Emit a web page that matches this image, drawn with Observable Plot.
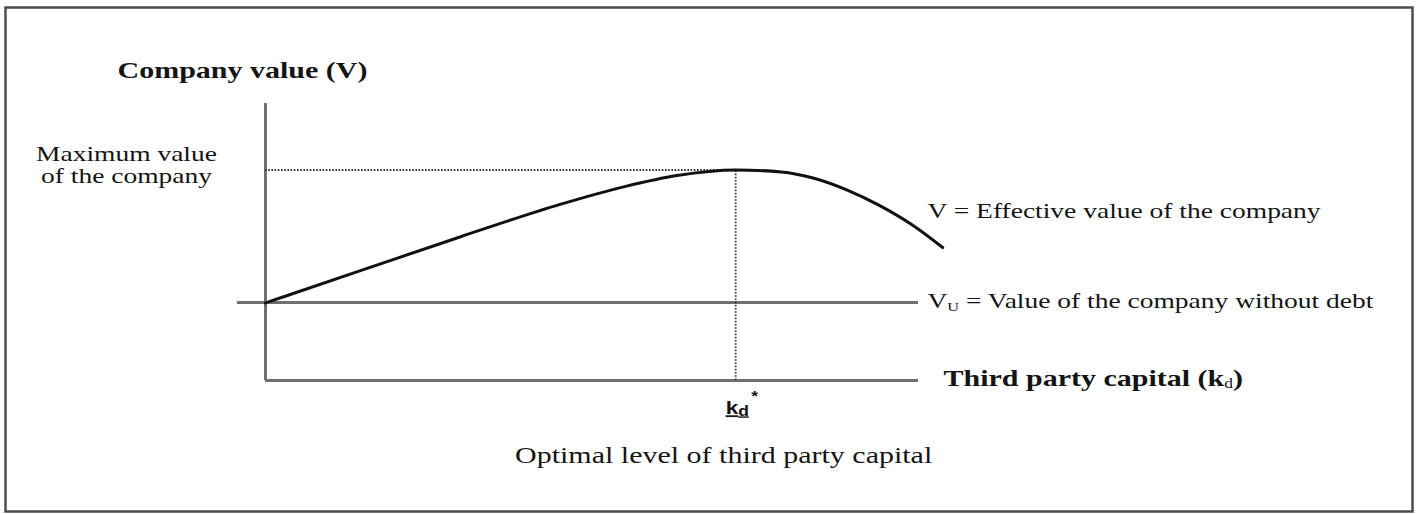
<!DOCTYPE html>
<html><head><meta charset="utf-8">
<script src="https://cdn.jsdelivr.net/npm/d3@7"></script>
<script src="https://cdn.jsdelivr.net/npm/@observablehq/plot@0.6"></script>
<style>
html,body{margin:0;padding:0;background:#fff;}
#chart svg{display:block;}
</style></head><body><div id="chart"></div>
<script>
// ---- data ----
const thirdPartyCapital = [0, 1.5, 3.0, 4.5, 5.5, 6.3, 7.2, 7.9, 8.4, 8.9, 9.4, 9.9, 10.37];
const effectiveValue    = [2.8, 4.0, 5.2, 6.35, 7.0, 7.4, 7.6, 7.53, 7.3, 6.88, 6.32, 5.62, 4.8];
const unleveredValue = 2.82;
const optimalCapital = 7.2;
const maximumValue = 7.6;
const xAxisEnd = 10;
const yAxisEnd = 10;
const vuLineStart = -0.43;

// ---- text labels ----
const yAxisTitle = "Company value (V)";
const xAxisTitle = "Third party capital (kd)";
const maxLabel = "Maximum value\nof the company";
const vLabel = "V = Effective value of the company";
const vuLabel = "VU = Value of the company without debt";
const kdLabel = "kd*";
const optimalLabel = "Optimal level of third party capital";

const curveData = thirdPartyCapital.map((x, i) => ({x, v: effectiveValue[i]}));
const serif = "'Liberation Serif', 'Times New Roman', serif";
const ink = "#141414";

const chart = Plot.plot({
  width: 1417, height: 514,
  marginTop: 0, marginRight: 0, marginBottom: 0, marginLeft: 0,
  x: {domain: [0, xAxisEnd], range: [265, 918], axis: null},
  y: {domain: [0, yAxisEnd], range: [380, 103], axis: null},
  style: {background: "#fff"},
  marks: [
    Plot.frame({stroke: "#4d4d4d", strokeWidth: 2.5, insetLeft: 5, insetTop: 7, insetRight: 5, insetBottom: 3}),
    Plot.ruleX([0], {y1: 0, y2: yAxisEnd, stroke: "#707070", strokeWidth: 3}),
    Plot.ruleY([0], {x1: 0, x2: xAxisEnd, stroke: "#707070", strokeWidth: 3}),
    Plot.ruleY([unleveredValue], {x1: vuLineStart, x2: xAxisEnd, stroke: "#707070", strokeWidth: 3}),
    Plot.ruleY([maximumValue], {x1: 0, x2: optimalCapital, stroke: "#333", strokeWidth: 1.8, strokeDasharray: "1.6,1.6"}),
    Plot.ruleX([optimalCapital], {y1: 0, y2: maximumValue, stroke: "#333", strokeWidth: 1.8, strokeDasharray: "1.6,1.6"}),
    Plot.line(curveData, {x: "x", y: "v", curve: "monotone-x", stroke: "#111", strokeWidth: 3}),
    Plot.text([yAxisTitle], {x: 0, y: yAxisEnd, text: d => d, textAnchor: "start", lineAnchor: "bottom", dx: -148, dy: -26, fontFamily: serif, fontWeight: "bold", fontSize: 24, fill: ink}),
    Plot.text([maxLabel], {x: 0, y: maximumValue, text: d => d, textAnchor: "middle", lineAnchor: "bottom", dx: -139, dy: 13, fontFamily: serif, fontSize: 22, lineHeight: 1, fill: ink}),
    Plot.text([vLabel], {x: xAxisEnd, y: effectiveValue[effectiveValue.length - 1], text: d => d, textAnchor: "start", lineAnchor: "bottom", dx: 9, dy: -30, fontFamily: serif, fontSize: 22, fill: ink}),
    Plot.text([vuLabel], {x: xAxisEnd, y: unleveredValue, text: d => d, textAnchor: "start", lineAnchor: "bottom", dx: 9, dy: 6, fontFamily: serif, fontSize: 22, fill: ink}),
    Plot.text([xAxisTitle], {x: xAxisEnd, y: 0, text: d => d, textAnchor: "start", lineAnchor: "bottom", dx: 25, dy: 5, fontFamily: serif, fontWeight: "bold", fontSize: 24, fill: ink}),
    Plot.text([kdLabel], {x: optimalCapital, y: 0, text: d => d, textAnchor: "start", lineAnchor: "bottom", dx: -10, dy: 33, fontFamily: "'Liberation Sans', Arial, sans-serif", fontWeight: "bold", fontSize: 18, fill: ink}),
    Plot.text([optimalLabel], {x: optimalCapital, y: 0, text: d => d, textAnchor: "middle", lineAnchor: "bottom", dx: -12, dy: 82, fontFamily: serif, fontSize: 24, fill: ink})
  ]
});

document.getElementById("chart").appendChild(chart);

// Subscripts, and the horizontal stretch of the original's text
chart.querySelectorAll("text").forEach(t => {
  const s = t.textContent;
  if (s === vuLabel) {
    t.innerHTML = 'V<tspan font-size="13" dy="3">U</tspan><tspan dy="-3"> = Value of the company without debt</tspan>';
  } else if (s === xAxisTitle) {
    t.innerHTML = 'Third party capital (k<tspan font-size="14" font-weight="normal" dy="2">d</tspan><tspan dy="-2">)</tspan>';
  } else if (s === kdLabel) {
    t.innerHTML = '<tspan style="text-decoration: underline;">k<tspan font-size="14" dy="2">d</tspan></tspan><tspan font-size="14" dy="-15" dx="2">*</tspan>';
  }
  const tr = t.getAttribute("transform");
  if (tr) t.setAttribute("transform", tr + " scale(1.25,1)");
  else {
    const x = +t.getAttribute("x") || 0, y = +t.getAttribute("y") || 0;
    t.removeAttribute("x"); t.removeAttribute("y");
    t.setAttribute("transform", `translate(${x},${y}) scale(1.25,1)`);
  }
});
</script>
</body></html>
